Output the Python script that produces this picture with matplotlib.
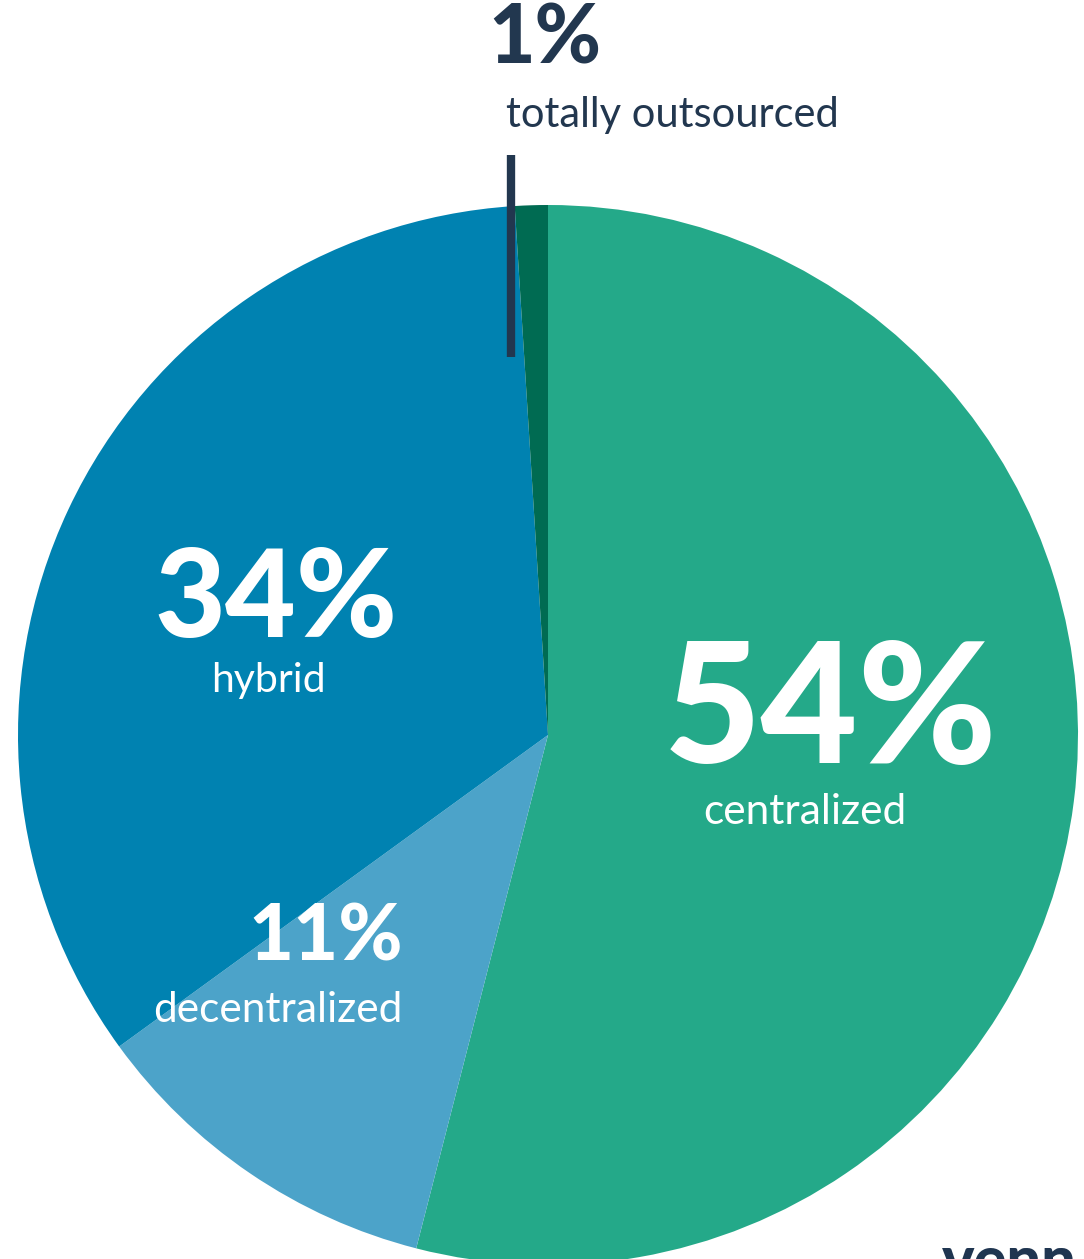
import matplotlib
matplotlib.use("Agg")
import matplotlib.pyplot as plt

# Shares of organisations by operating model
categories = ["centralized", "decentralized", "hybrid", "totally outsourced"]
shares = [54, 11, 34, 1]
colors = ["#24a989", "#4ca3c9", "#0082b1", "#006b52"]

W, H = 1084, 1259
fig = plt.figure(figsize=(W / 100, H / 100), dpi=100)
ax = fig.add_axes([0, 0, 1, 1])

cx, cy, r = 548, H - 735, 530
ax.pie(shares, colors=colors, startangle=90, counterclock=False,
       center=(cx, cy), radius=r, frame=True,
       wedgeprops=dict(linewidth=0))
ax.set_xlim(0, W)
ax.set_ylim(0, H)
ax.set_aspect("equal")
ax.axis("off")

navy = "#22374f"
big = dict(family="Lato", weight="black", ha="center", va="center")
small = dict(family="Lato", weight="normal", ha="center", va="center")

def y(p):
    return H - p

# centralized
ax.text(830, y(714), f"{shares[0]}%", fontsize=121, color="white", **big)
ax.text(805, y(812), categories[0], fontsize=30.5, color="white", **small)
# hybrid
ax.text(276, y(601), f"{shares[2]}%", fontsize=88, color="white", **big)
ax.text(268, y(680), categories[2], fontsize=29.5, color="white", **small)
# decentralized
ax.text(326, y(938), f"{shares[1]}%", fontsize=56, color="white", **big)
ax.text(278, y(1010), categories[1], fontsize=30.5, color="white", **small)
# totally outsourced (callout above the pie)
ax.text(545, y(40), f"{shares[3]}%", fontsize=58, color=navy, **big)
ax.text(672, y(115), categories[3], fontsize=30, color=navy, **small)
ax.plot([511, 511], [y(155), y(357)], color=navy, linewidth=6, solid_capstyle="butt")

# brand mark, partly off the bottom edge
ax.text(942, y(1262), "venn", fontsize=44, color="#1f3550", family="Lato",
        weight="black", ha="left", va="center", clip_on=False)

fig.savefig("out.png", dpi=100, facecolor="white")
